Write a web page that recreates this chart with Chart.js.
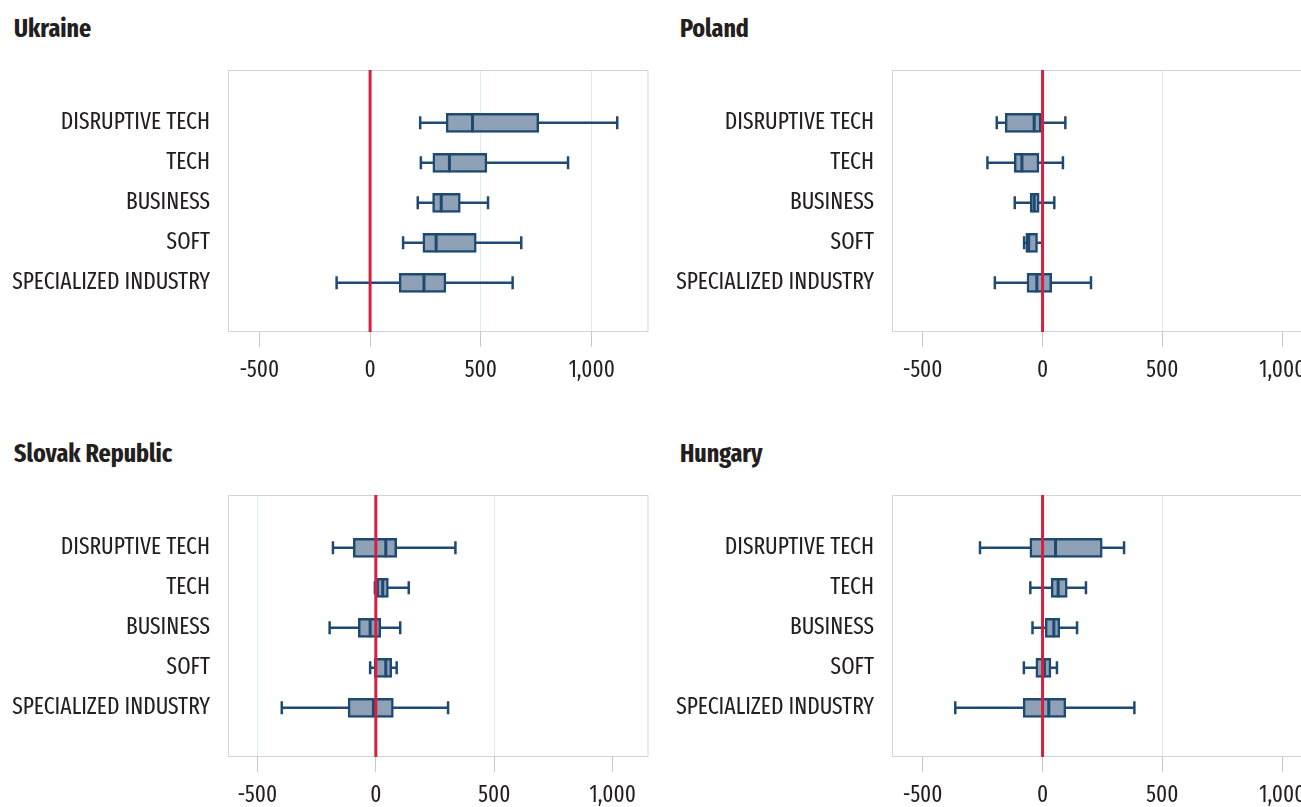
<!DOCTYPE html>
<html>
<head>
<meta charset="utf-8">
<script src="https://cdn.jsdelivr.net/npm/chart.js@4.4.1/dist/chart.umd.min.js"></script>
<style>
  html, body { margin: 0; padding: 0; background: #fff; overflow: hidden; width: 1301px; height: 807px; }
  .panel { position: absolute; width: 661px; height: 400px; }
  .panel h2 { position: absolute; margin: 0; left: 14px; top: 13px; line-height: 26px; font: 700 26px 'Fira Sans Extra Condensed', sans-serif; color: #231f20; }
  .panel canvas { position: absolute; left: 0; top: 0; }
</style>
</head>
<body>
<div class="panel" style="left:0;top:0"><h2>Ukraine</h2><canvas id="ukraine" width="661" height="400"></canvas></div>
<div class="panel" style="left:664px;top:0"><h2 style="left:16px">Poland</h2><canvas id="poland" width="661" height="400"></canvas></div>
<div class="panel" style="left:0;top:425px"><h2>Slovak Republic</h2><canvas id="slovak" width="661" height="400"></canvas></div>
<div class="panel" style="left:664px;top:425px"><h2 style="left:16px">Hungary</h2><canvas id="hungary" width="661" height="400"></canvas></div>
<script>
  const categories = ["DISRUPTIVE TECH", "TECH", "BUSINESS", "SOFT", "SPECIALIZED INDUSTRY"];
  const xTicks = [-500, 0, 500, 1000];

  // each row: [lower whisker, q1, median, q3, upper whisker]
  const ukraine = [
    [226, 343, 462, 761, 1115],
    [229, 283, 358, 527, 893],
    [215, 282, 321, 407, 532],
    [149, 238, 298, 479, 682],
    [-151, 131, 243, 342, 643]
  ];
  const poland = [
    [-191, -156, -35, -6, 95],
    [-230, -118, -86, -15, 85],
    [-116, -52, -35, -14, 49],
    [-77, -70, -58, -21, 0],
    [-199, -65, -24, 38, 202]
  ];
  const slovak = [
    [-181, -95, 42, 88, 336],
    [-4, 4, 29, 53, 139],
    [-195, -74, -24, 21, 103],
    [-24, -7, 42, 67, 88],
    [-397, -117, -10, 74, 305]
  ];
  const hungary = [
    [-261, -53, 54, 249, 340],
    [-51, 36, 65, 103, 181],
    [-42, 11, 47, 72, 144],
    [-78, -28, 8, 35, 60],
    [-364, -81, 26, 97, 383]
  ];

  const fontFamily = "'Fira Sans Extra Condensed', 'PT Sans Narrow', sans-serif";
  const boxFill = "#8ea1b6";
  const boxLine = "#1e4a72";
  const zeroLine = "#d41f3f";
  const yMin = -0.32;
  const yMax = 6.23;

  const frame = {
    id: "frame",
    beforeDatasetsDraw(chart) {
      const a = chart.chartArea;
      const ctx = chart.ctx;
      ctx.save();
      ctx.strokeStyle = "#d4d4d4";
      ctx.lineWidth = 1;
      ctx.strokeRect(a.left + 0.5, a.top + 0.5, a.right - a.left - 1, a.bottom - a.top - 1);
      ctx.restore();
    }
  };

  function drawPanel(id, stats, xMin, xMax, gridAt) {
    const datasets = [];

    stats.forEach(function (s, i) {
      datasets.push({
        type: "line",
        data: [{ x: s[0], y: i + 1 }, { x: s[4], y: i + 1 }],
        borderColor: boxLine,
        borderWidth: 2.5,
        pointRadius: 0,
        order: 4
      });
    });

    datasets.push({
      type: "bar",
      data: stats.map(function (s, i) { return { x: [s[1], s[3]], y: i + 1 }; }),
      backgroundColor: boxFill,
      borderColor: boxLine,
      borderWidth: 2.5,
      borderSkipped: false,
      barThickness: 19,
      order: 3
    });

    const caps = [];
    stats.forEach(function (s, i) {
      caps.push({ x: s[0], y: i + 1 }, { x: s[4], y: i + 1 });
    });
    datasets.push({
      type: "line",
      data: caps,
      showLine: false,
      pointStyle: "line",
      rotation: 90,
      pointRadius: 6.5,
      pointBorderWidth: 2.5,
      pointBorderColor: boxLine,
      order: 2
    });

    datasets.push({
      type: "line",
      data: stats.map(function (s, i) { return { x: s[2], y: i + 1 }; }),
      showLine: false,
      pointStyle: "line",
      rotation: 90,
      pointRadius: 9.5,
      pointBorderWidth: 3,
      pointBorderColor: boxLine,
      order: 2
    });

    datasets.push({
      type: "line",
      data: [{ x: 0, y: yMin }, { x: 0, y: yMax }],
      borderColor: zeroLine,
      borderWidth: 3,
      pointRadius: 0,
      order: 1
    });

    new Chart(document.getElementById(id).getContext("2d"), {
      type: "bar",
      data: { datasets: datasets },
      options: {
        indexAxis: "y",
        responsive: false,
        animation: false,
        layout: { padding: { top: 70, right: 8, left: 0, bottom: 0 } },
        plugins: { legend: { display: false }, tooltip: { enabled: false } },
        scales: {
          x: {
            type: "linear",
            min: xMin,
            max: xMax,
            afterBuildTicks: function (scale) {
              scale.ticks = xTicks.map(function (v) { return { value: v }; });
            },
            afterFit: function (scale) {
              scale.height = 68;
              scale.paddingLeft = 0;
              scale.paddingRight = 0;
            },
            grid: {
              color: function (ctx) {
                return ctx.tick && gridAt.indexOf(ctx.tick.value) >= 0 ? "#e1eaee" : "rgba(0,0,0,0)";
              },
              tickColor: "#c8c8c8",
              tickLength: 15,
              lineWidth: 1
            },
            border: { display: false },
            ticks: {
              color: "#231f20",
              padding: 10,
              font: { family: fontFamily, size: 23 },
              callback: function (v) { return v.toLocaleString("en-US"); }
            }
          },
          y: {
            type: "linear",
            reverse: true,
            offset: false,
            min: yMin,
            max: yMax,
            afterBuildTicks: function (scale) {
              scale.ticks = categories.map(function (c, i) { return { value: i + 1 }; });
            },
            afterFit: function (scale) { scale.width = 228; },
            grid: { display: false, drawTicks: false },
            border: { display: false },
            ticks: {
              color: "#231f20",
              padding: 18,
              font: { family: fontFamily, size: 23.4 },
              callback: function (v, i) { return categories[i]; }
            }
          }
        }
      },
      plugins: [frame]
    });
  }

  drawPanel("ukraine", ukraine, -641, 1256, [500, 1000]);
  drawPanel("poland", poland, -628, 1126, [500]);
  drawPanel("slovak", slovak, -624, 1151, [-500, 500]);
  drawPanel("hungary", hungary, -628, 1126, [500]);
</script>
</body>
</html>
